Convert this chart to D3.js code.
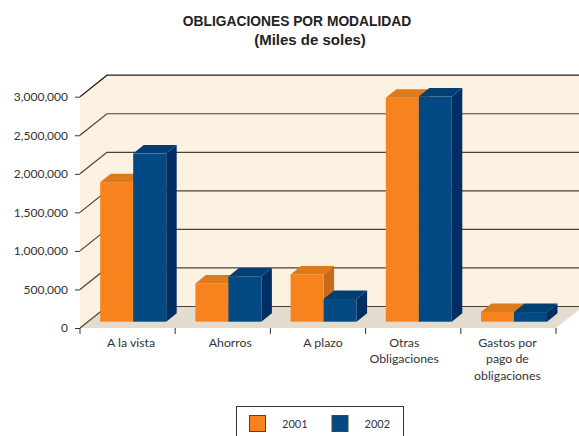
<!DOCTYPE html>
<html>
<head>
<meta charset="utf-8">
<script src="https://cdn.jsdelivr.net/npm/d3@7"></script>
<style>
  html, body { margin: 0; padding: 0; background: #fff; overflow: hidden; }
  svg { display: block; }
</style>
</head>
<body>
<div id="chart"></div>
<script>
// Data
const categories = ["A la vista", "Ahorros", "A plazo", "Otras Obligaciones", "Gastos por pago de obligaciones"];
const categoryLines = [["A la vista"], ["Ahorros"], ["A plazo"], ["Otras", "Obligaciones"], ["Gastos por", "pago de", "obligaciones"]];
const seriesNames = ["2001", "2002"];
const values2001 = [1810000, 497000, 613000, 2905000, 126000];
const values2002 = [2180000, 587000, 294000, 2920000, 125000];
const yTicks = [0, 500000, 1000000, 1500000, 2000000, 2500000, 3000000];
const titleLines = ["OBLIGACIONES POR MODALIDAD", "(Miles de soles)"];

const colors = {
    "2001": {front: "#f7821e", top: "#dd7a1c", side: "#c96a18"},
    "2002": {front: "#034a84", top: "#033f73", side: "#022f63"}
};

const width = 579, height = 436;
const left = 80, right = 556, bottom = 328, top3m = 96.7;
const wallDx = 27, wallDy = 21.5;   // depth of the floor
const barDx = 10.5, barDy = 8.5;    // depth of a bar
const barOffX = 5.7, barOffY = 6.3; // bars sit a bit into the floor

// The labels in the original are not quite centred on their categories
const labelShift = [3.5, 7.5, 5, -9, -1];
const titleX = [297, 310], titleY = [25.7, 45], titleSize = [13.8, 15];

const svg = d3.select("#chart").append("svg")
    .attr("width", width)
    .attr("height", height);

// Scales
const x = d3.scaleBand().domain(categories).range([left, right]).paddingInner(0).paddingOuter(0);
const xSeries = d3.scaleBand().domain(seriesNames).range([14.5, 80.5]);
const y = d3.scaleLinear().domain([0, 3000000]).range([bottom, top3m]);

const pts = a => a.map(p => p.join(",")).join(" ");

// Back wall, side wall and floor
svg.append("polygon")
    .attr("points", pts([[left + wallDx, y(3000000) - wallDy], [right + wallDx, y(3000000) - wallDy], [right + wallDx, bottom - wallDy], [left + wallDx, bottom - wallDy]]))
    .attr("fill", "#fdf1e1");
svg.append("polygon")
    .attr("points", pts([[left, y(3000000)], [left + wallDx, y(3000000) - wallDy], [left + wallDx, bottom - wallDy], [left, bottom]]))
    .attr("fill", "#fdf1e1");
svg.append("polygon")
    .attr("points", pts([[left, bottom], [left + wallDx, bottom - wallDy], [right + wallDx, bottom - wallDy], [right, bottom]]))
    .attr("fill", "#e4dccf");

// Gridlines run along the side wall and then the back wall
svg.append("g").selectAll("polyline")
    .data(yTicks)
    .enter()
    .append("polyline")
    .attr("points", d => pts([[left, y(d)], [left + wallDx, y(d) - wallDy], [right + wallDx, y(d) - wallDy]]))
    .attr("fill", "none")
    .attr("stroke", d => d === 3000000 ? "#221e1a" : "#4a4238")
    .attr("stroke-width", 1.2);

// Y axis
const yAxis = svg.append("g")
    .attr("transform", "translate(" + left + ",0)")
    .call(d3.axisLeft(y).tickValues(yTicks).tickSize(5).tickPadding(7).tickFormat(d3.format(",")));
yAxis.select(".domain").remove();
yAxis.selectAll("line").attr("stroke", "#333");
yAxis.selectAll("text")
    .attr("fill", "#333")
    .style("font-family", "Lato")
    .style("font-size", "12px");

// X axis ticks sit on the category boundaries
const xTicks = svg.append("g");
xTicks.selectAll("line")
    .data(categories.map(c => x(c)).concat([right]))
    .enter()
    .append("line")
    .attr("x1", d => d).attr("x2", d => d)
    .attr("y1", bottom).attr("y2", bottom + 6)
    .attr("stroke", "#333");

const xLabels = svg.append("g")
    .selectAll("text")
    .data(categories)
    .enter()
    .append("text")
    .attr("text-anchor", "middle")
    .attr("fill", "#333")
    .style("font-family", "Lato")
    .style("font-size", "12.3px");
xLabels.selectAll("tspan")
    .data((d, i) => categoryLines[i].map(line => ({line: line, cat: d, shift: labelShift[i]})))
    .enter()
    .append("tspan")
    .attr("x", d => x(d.cat) + x.bandwidth() / 2 + d.shift)
    .attr("y", (d, i) => 346.5 + i * 16.7)
    .text(d => d.line);

// 3D bars, drawn left to right so the faces overlap properly
const barData = [];
categories.forEach((c, i) => {
    barData.push({cat: c, series: "2001", value: values2001[i]});
    barData.push({cat: c, series: "2002", value: values2002[i]});
});

const bars = svg.append("g").selectAll("g")
    .data(barData)
    .enter()
    .append("g");

const x0 = d => x(d.cat) + xSeries(d.series) + barOffX;
const x1 = d => x0(d) + xSeries.bandwidth();
const yB = () => y(0) - barOffY;
const yT = d => y(d.value) - barOffY;

bars.append("polygon")
    .attr("points", d => pts([[x1(d), yT(d)], [x1(d) + barDx, yT(d) - barDy], [x1(d) + barDx, yB() - barDy], [x1(d), yB()]]))
    .attr("fill", d => colors[d.series].side);
bars.append("polygon")
    .attr("points", d => pts([[x0(d), yT(d)], [x0(d) + barDx, yT(d) - barDy], [x1(d) + barDx, yT(d) - barDy], [x1(d), yT(d)]]))
    .attr("fill", d => colors[d.series].top);
bars.append("rect")
    .attr("x", x0)
    .attr("y", yT)
    .attr("width", xSeries.bandwidth())
    .attr("height", d => yB() - yT(d))
    .attr("fill", d => colors[d.series].front);

// Title
svg.append("g").selectAll("text")
    .data(titleLines)
    .enter()
    .append("text")
    .attr("x", (d, i) => titleX[i])
    .attr("y", (d, i) => titleY[i])
    .attr("text-anchor", "middle")
    .attr("fill", "#222")
    .style("font-family", "Liberation Sans")
    .style("font-weight", "bold")
    .style("font-size", (d, i) => titleSize[i] + "px")
    .text(d => d);

// Legend, its box runs off the bottom of the page
svg.append("rect")
    .attr("x", 236.5).attr("y", 406.5)
    .attr("width", 167).attr("height", 40)
    .attr("fill", "#fff")
    .attr("stroke", "#333");

const legend = svg.append("g").selectAll("g")
    .data(seriesNames)
    .enter()
    .append("g")
    .attr("transform", (d, i) => "translate(" + (249 + i * 82.5) + ",415)");
legend.append("rect")
    .attr("x", 0.5).attr("y", 0.5)
    .attr("width", 16).attr("height", 16)
    .attr("fill", d => colors[d].front)
    .attr("stroke", "#444");
legend.append("text")
    .attr("x", 33)
    .attr("y", 12.5)
    .attr("fill", "#333")
    .style("font-family", "Lato")
    .style("font-size", "11px")
    .text(d => d);
</script>
</body>
</html>
